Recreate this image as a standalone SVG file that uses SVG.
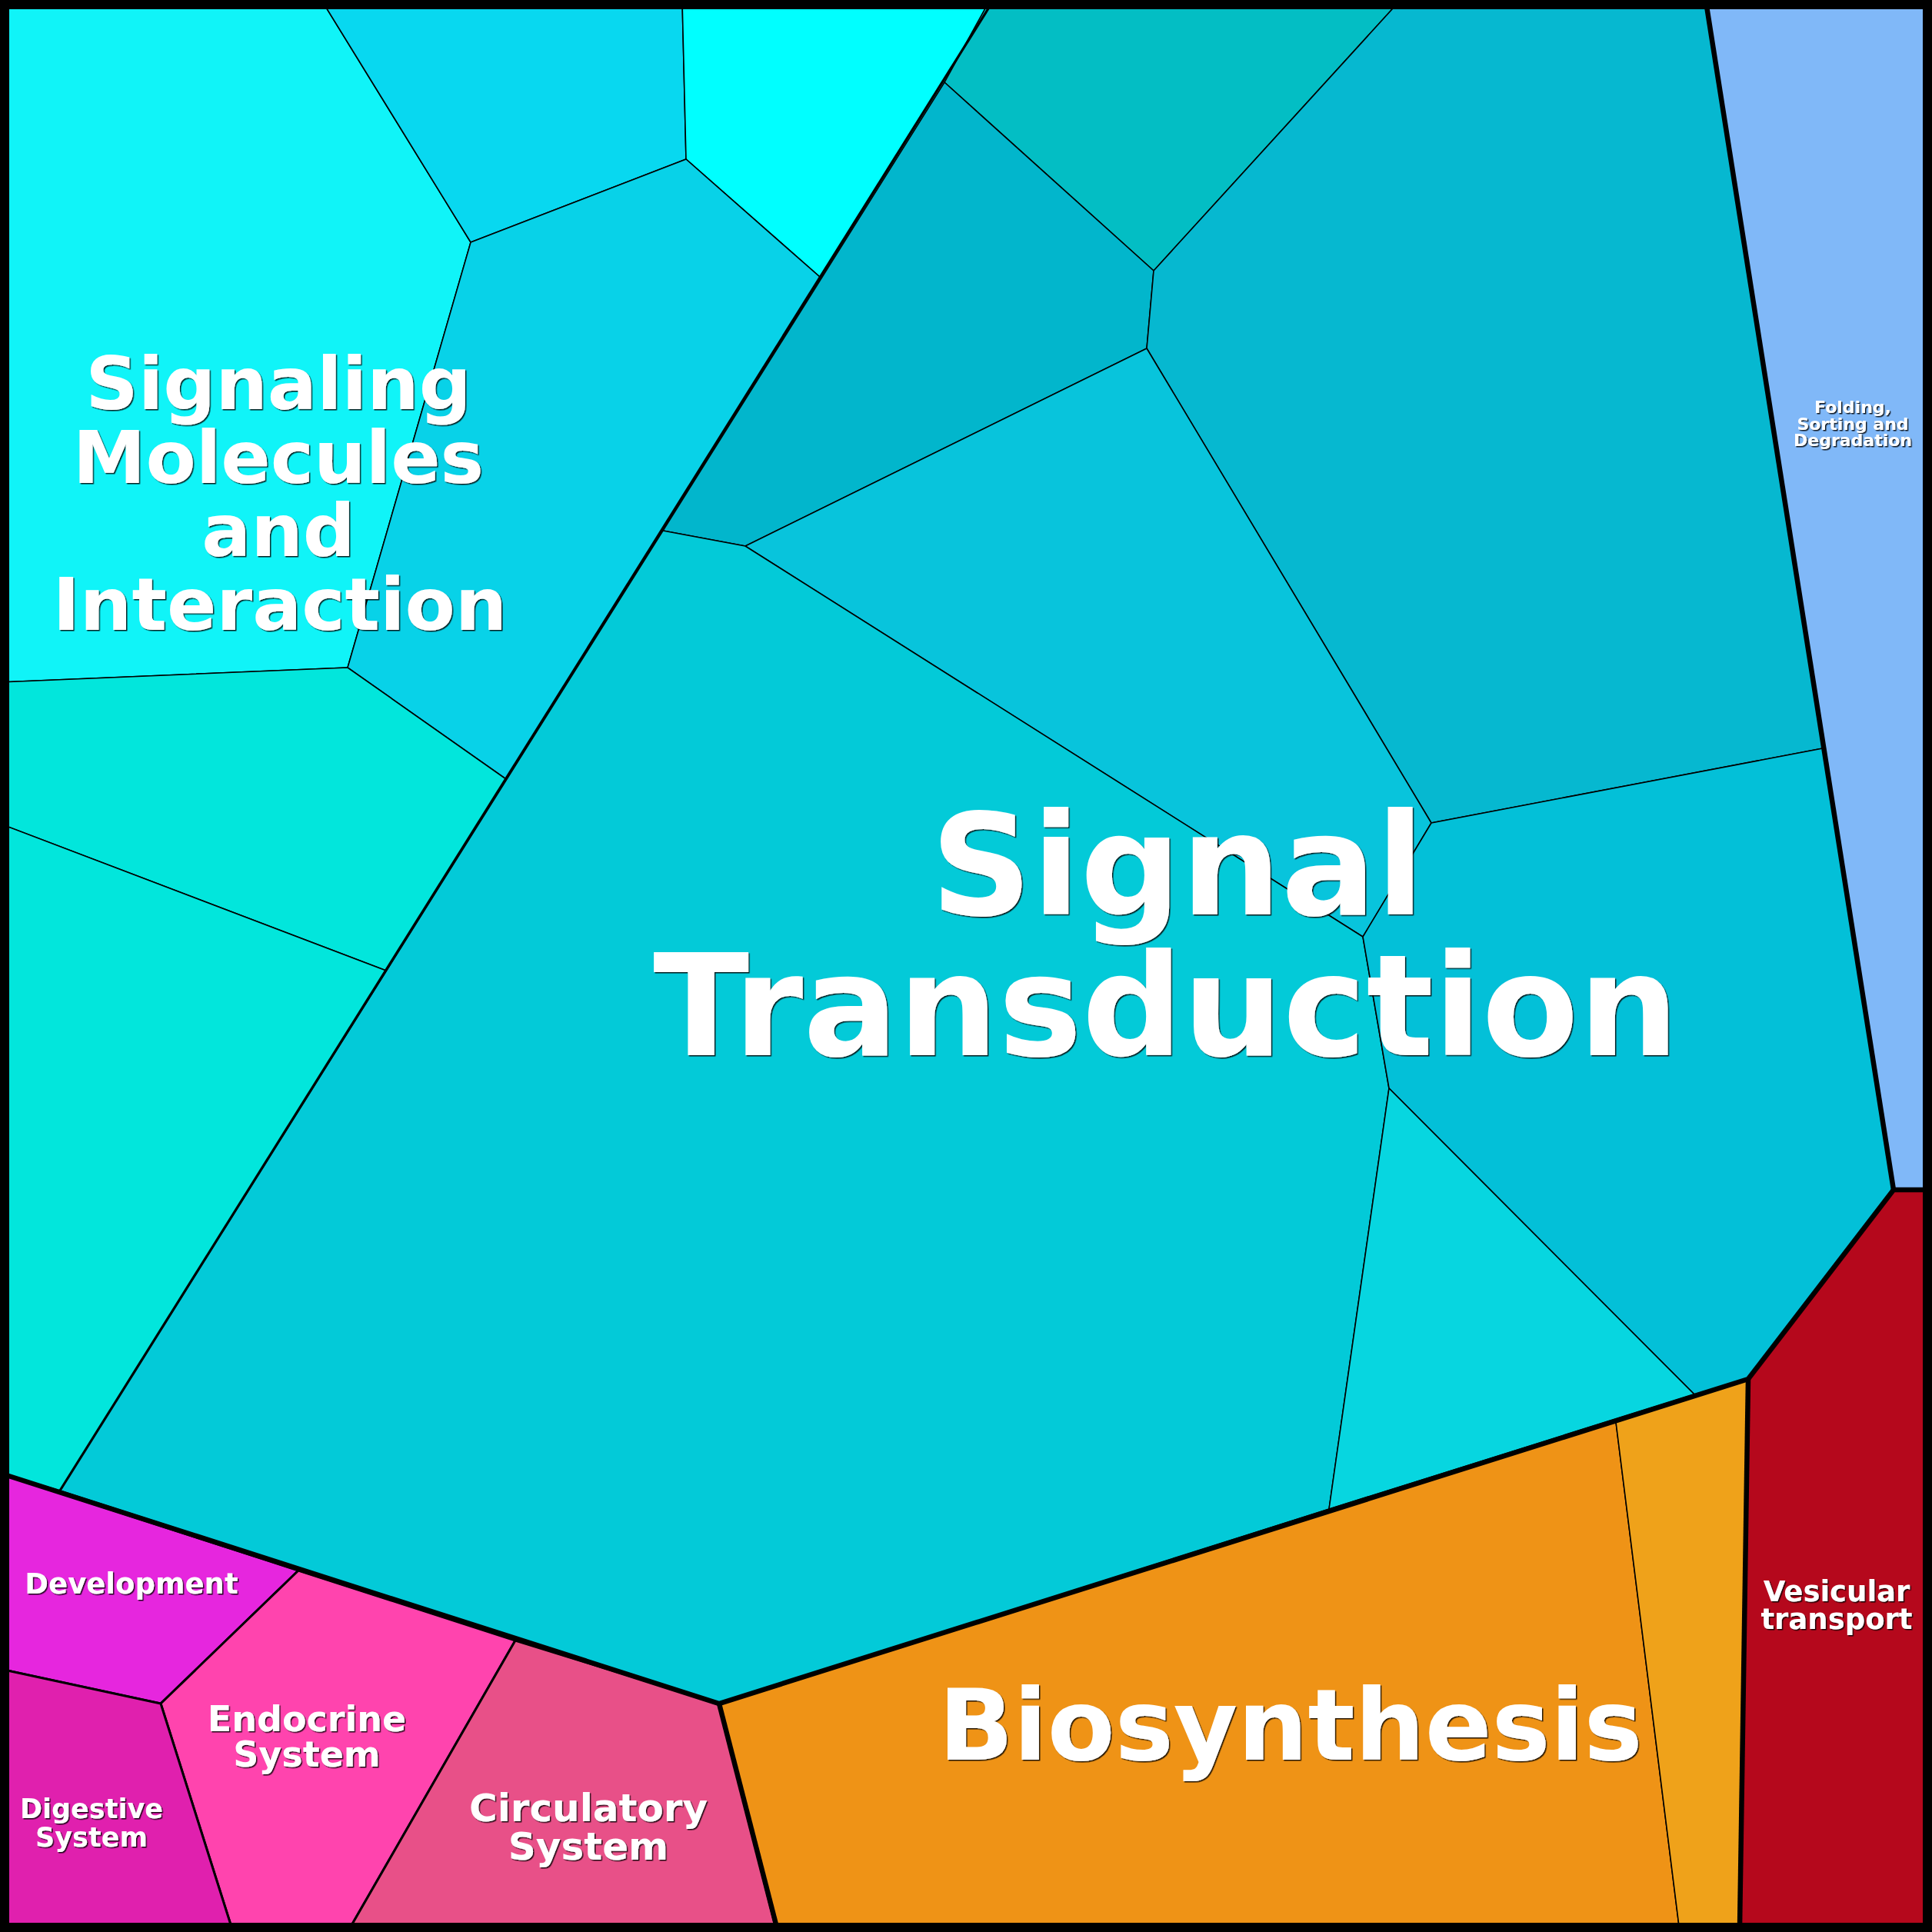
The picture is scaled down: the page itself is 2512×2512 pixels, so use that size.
<svg xmlns="http://www.w3.org/2000/svg" width="2512" height="2512" viewBox="0 0 2512 2512">
<defs>
<filter id="sh" x="-10%" y="-10%" width="120%" height="130%">
<feDropShadow dx="1.5" dy="1.5" stdDeviation="0.6" flood-color="#000" flood-opacity="0.85"/>
</filter>
<style>
.c{stroke:#000;stroke-width:1.6;stroke-linejoin:miter}
.m{stroke:#000;stroke-width:3;stroke-linejoin:miter}
.b{fill:none;stroke:#000;stroke-linejoin:miter}
.t{font-family:"DejaVu Sans","Liberation Sans",sans-serif;font-weight:bold;fill:#fff;text-anchor:middle;filter:url(#sh)}
</style>
</defs>
<rect x="0" y="0" width="2512" height="2512" fill="#03CAD8"/>
<g id="signaling-molecules-a"><polygon class="c" fill="#10F4F8" points="0,0 418,0 612,315 452,868 0,887"/></g>
<g id="signaling-molecules-b"><polygon class="c" fill="#08D8F0" points="418,0 887,0 892,207 612,315"/></g>
<g id="signaling-molecules-c"><polygon class="c" fill="#00FFFF" points="887,0 1292,0 1067,361 892,207"/></g>
<g id="signaling-molecules-d"><polygon class="c" fill="#08D2E8" points="612,315 892,207 1067,361 658,1013 452,868"/></g>
<g id="signaling-molecules-e"><polygon class="c" fill="#02E6DC" points="0,887 452,868 658,1013 502,1262 0,1071"/></g>
<g id="signaling-molecules-f"><polygon class="c" fill="#02E6DC" points="0,1071 502,1262 78,1938 0,1915"/></g>
<g id="signal-g"><polygon class="c" fill="#03BEC4" points="1287,0 1821,0 1500,352 1228,107"/></g>
<g id="signal-h"><polygon class="c" fill="#02B6CC" points="1228,107 1500,352 1491,453 969,710 862,690"/></g>
<g id="signal-i"><polygon class="c" fill="#06B8D0" points="1821,0 2218,0 2370,973 1861,1070 1491,453 1500,352"/></g>
<g id="signal-j"><polygon class="c" fill="#08C4DC" points="1491,453 1861,1070 1772,1218 969,710"/></g>
<g id="signal-k"><polygon class="c" fill="#03CAD8" points="862,690 969,710 1772,1218 1806,1415 1728,1962 935,2215 78,1938"/></g>
<g id="signal-m"><polygon class="c" fill="#03C0D8" points="1772,1218 1861,1070 2370,973 2462,1547 2273,1793 2203,1813 1806,1415"/></g>
<g id="signal-n"><polygon class="c" fill="#07D6E0" points="1806,1415 2203,1813 1728,1962"/></g>
<g id="folding"><polygon class="c" fill="#80B8F8" points="2218,0 2512,0 2512,1547 2462,1547"/></g>
<g id="biosynthesis-a"><polygon class="c" fill="#EF9316" points="935,2215 2101,1849 2184,2512 1010,2512"/></g>
<g id="biosynthesis-b"><polygon class="c" fill="#EFA21A" points="2101,1849 2273,1793 2262,2512 2184,2512"/></g>
<g id="vesicular"><polygon class="c" fill="#B5081C" points="2273,1793 2462,1547 2512,1547 2512,2512 2262,2512"/></g>
<g id="development"><polygon class="m" fill="#E626DE" points="0,1916 388,2042 209,2215 0,2170"/></g>
<g id="endocrine"><polygon class="m" fill="#FF44AE" points="388,2042 670,2133 452,2512 303,2512 209,2215"/></g>
<g id="circulatory"><polygon class="m" fill="#E85088" points="670,2133 935,2215 1010,2512 452,2512"/></g>
<g id="digestive"><polygon class="m" fill="#E020AE" points="0,2170 209,2215 303,2512 0,2512"/></g>
<g id="connectors">
<polyline class="b" stroke-width="3.2" points="1287,8 78,1938"/>
<polyline class="b" stroke-width="6.5" points="5,1917 935,2215 2273,1793 2462,1547 2507,1547"/>
<polyline class="b" stroke-width="6.5" points="2219,8 2462,1547"/>
<polyline class="b" stroke-width="6.5" points="935,2215 1010,2506"/>
<polyline class="b" stroke-width="6.5" points="2273,1793 2262,2506"/>
<rect x="6" y="6" width="2500" height="2500" fill="none" stroke="#000" stroke-width="12"/>
</g>
<g id="labels">
<text class="t" font-size="95"><tspan x="362" y="532">Signaling</tspan><tspan x="362" y="628">Molecules</tspan><tspan x="362" y="723">and</tspan><tspan x="364" y="819">Interaction</tspan></text>
<text class="t" font-size="183"><tspan x="1531" y="1189">Signal</tspan><tspan x="1516" y="1372">Transduction</tspan></text>
<text class="t" font-size="128" x="1678" y="2288">Biosynthesis</text>
<text class="t" font-size="37"><tspan x="2388" y="2082">Vesicular</tspan><tspan x="2388" y="2118">transport</tspan></text>
<text class="t" font-size="22"><tspan x="2409" y="537">Folding,</tspan><tspan x="2409" y="559">Sorting and</tspan><tspan x="2409" y="580">Degradation</tspan></text>
<text class="t" font-size="37" x="171" y="2072">Development</text>
<text class="t" font-size="46"><tspan x="399" y="2251">Endocrine</tspan><tspan x="399" y="2297">System</tspan></text>
<text class="t" font-size="35"><tspan x="119" y="2364">Digestive</tspan><tspan x="119" y="2401">System</tspan></text>
<text class="t" font-size="50"><tspan x="765" y="2368">Circulatory</tspan><tspan x="765" y="2418">System</tspan></text>
</g>
</svg>
